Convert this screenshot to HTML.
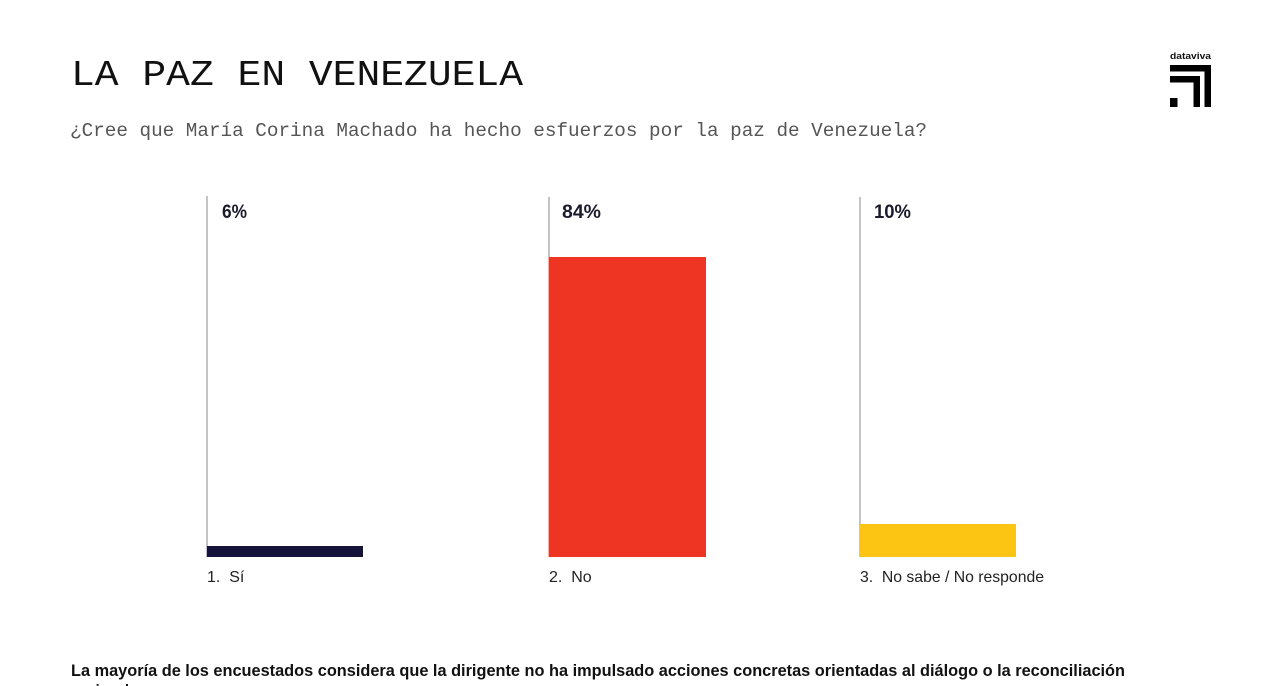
<!DOCTYPE html>
<html>
<head>
<meta charset="utf-8">
<style>
  html, body { margin: 0; padding: 0; background: #ffffff; }
  body { width: 1280px; height: 686px; overflow: hidden; }
  svg { display: block; }
</style>
</head>
<body>
<svg width="1280" height="686" viewBox="0 0 1280 686" xmlns="http://www.w3.org/2000/svg">
  <rect x="0" y="0" width="1280" height="686" fill="#ffffff"/>

  <!-- Title -->
  <text x="71" y="85" font-family="Liberation Mono, monospace" font-size="36" fill="#111111" textLength="452" lengthAdjust="spacingAndGlyphs">LA PAZ EN VENEZUELA</text>

  <!-- Subtitle -->
  <text x="70" y="136" font-family="Liberation Mono, monospace" font-size="19.3" fill="#555555" textLength="857" lengthAdjust="spacingAndGlyphs">¿Cree que María Corina Machado ha hecho esfuerzos por la paz de Venezuela?</text>

  <!-- Logo -->
  <text x="1170" y="59" font-family="Liberation Sans, sans-serif" font-size="9.5" font-weight="bold" fill="#111111" textLength="41" lengthAdjust="spacingAndGlyphs">dataviva</text>
  <rect x="1170" y="65" width="41" height="6.5" fill="#000"/>
  <rect x="1204.5" y="65" width="6.5" height="42" fill="#000"/>
  <rect x="1170" y="76" width="30" height="6.5" fill="#000"/>
  <rect x="1193.5" y="76" width="6.5" height="31" fill="#000"/>
  <rect x="1170" y="98" width="7.5" height="9" fill="#000"/>

  <!-- Axis lines -->
  <rect x="206.5" y="196" width="1" height="361" fill="#8a8a8a"/>
  <rect x="548.5" y="197" width="1" height="360" fill="#8a8a8a"/>
  <rect x="859.5" y="197" width="1" height="360" fill="#8a8a8a"/>

  <!-- Bars -->
  <rect x="207" y="546" width="156" height="11" fill="#15133a"/>
  <rect x="549" y="257" width="157" height="300" fill="#ee3524"/>
  <rect x="860" y="524" width="156" height="33" fill="#fdc513"/>

  <!-- Value labels -->
  <text x="222" y="218" font-family="Liberation Sans, sans-serif" font-size="19" font-weight="bold" fill="#1b1b2b" textLength="25" lengthAdjust="spacingAndGlyphs">6%</text>
  <text x="562" y="218" font-family="Liberation Sans, sans-serif" font-size="19" font-weight="bold" fill="#1b1b2b" textLength="39" lengthAdjust="spacingAndGlyphs">84%</text>
  <text x="874" y="218" font-family="Liberation Sans, sans-serif" font-size="19" font-weight="bold" fill="#1b1b2b" textLength="37" lengthAdjust="spacingAndGlyphs">10%</text>

  <!-- Category labels -->
  <text x="207" y="582" font-family="Liberation Sans, sans-serif" font-size="16" fill="#222222" xml:space="preserve">1.  Sí</text>
  <text x="549" y="582" font-family="Liberation Sans, sans-serif" font-size="16" fill="#222222" xml:space="preserve">2.  No</text>
  <text x="860" y="582" font-family="Liberation Sans, sans-serif" font-size="16" fill="#222222" textLength="184" lengthAdjust="spacingAndGlyphs" xml:space="preserve">3.  No sabe / No responde</text>

  <!-- Bottom note -->
  <text x="71" y="676" font-family="Liberation Sans Narrow, Liberation Sans, sans-serif" font-size="16.5" font-weight="bold" fill="#111111" textLength="1054" lengthAdjust="spacingAndGlyphs">La mayoría de los encuestados considera que la dirigente no ha impulsado acciones concretas orientadas al diálogo o la reconciliación</text>
  <text x="71" y="696" font-family="Liberation Sans Narrow, Liberation Sans, sans-serif" font-size="16.5" font-weight="bold" fill="#111111" textLength="62" lengthAdjust="spacingAndGlyphs">nacional.</text>
</svg>
</body>
</html>
